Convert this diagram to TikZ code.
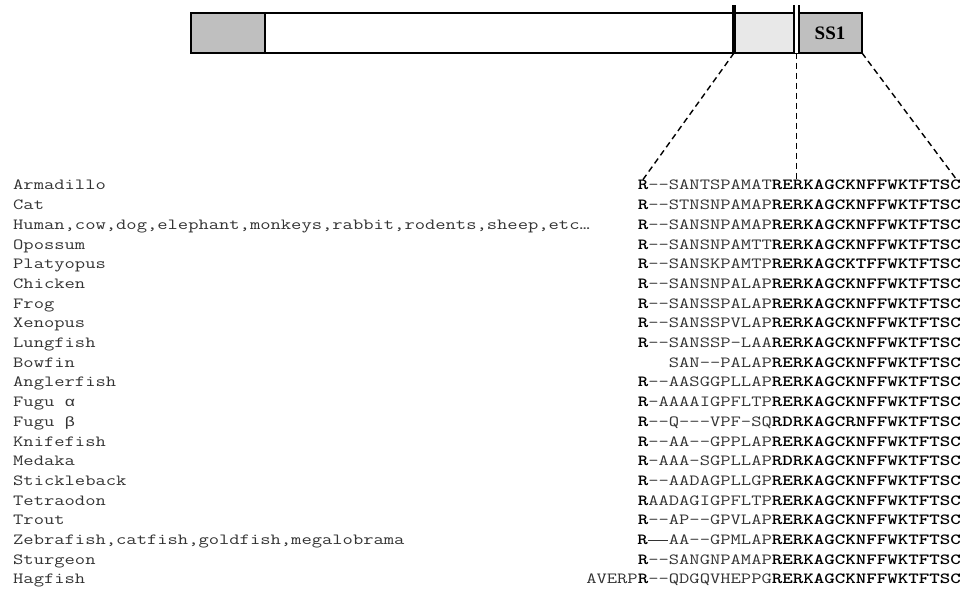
\documentclass[tikz,border=0pt]{standalone}
\usepackage{fontspec}
\newfontfamily\ssfont{Liberation Serif}
\newfontfamily\grk{Liberation Mono}
\usepackage{tikz}

\tikzset{
  species/.style={anchor=base west, inner sep=0pt, text=black!80,
    font=\ttfamily\fontsize{15.5}{17}\selectfont},
  seq/.style={anchor=base east, inner sep=0pt, text=black!80,
    font=\ttfamily\fontsize{15.5}{17}\selectfont},
  segment/.style={draw, line width=1.8pt},
  cut/.style={line width=3.5pt},
  dashline/.style={dash pattern=on 6pt off 4pt, line width=1.4pt},
}
\newcommand{\wide}[1]{\scalebox{1.29}[1]{#1}}
\newcommand{\bd}[1]{{\color{black}\fontseries{b}\selectfont #1}}
\newcommand{\gr}[1]{{\grk\fontsize{13.5}{17}\selectfont #1}}
\newcommand{\longdash}{\makebox[1.05em][c]{\rule[0.22em]{1.0em}{0.05em}}}

\begin{document}
\begin{tikzpicture}[x=1pt,y=1pt]
\useasboundingbox (0,0) rectangle (962,597);
% precursor bar
\draw[segment, fill=black!25] (191,544) rectangle (265,584);
\draw[segment, fill=white] (265,544) rectangle (734,584);
\draw[segment, fill=black!9] (734,544) rectangle (796.5,584);
\draw[segment, fill=black!25] (796.5,544) rectangle (862,584);
\node[font=\ssfont\bfseries\fontsize{19}{19}\selectfont] (ss1) at (830,564) {SS1};
%
\draw[cut] (734,544) -- (734,592);
\draw[double, double distance=2.2pt, line width=2.8pt] (796.5,544) -- (796.5,592);
%
\coordinate (c1) at (734,544);
\coordinate (c2) at (796.5,544);
\coordinate (c3) at (862,544);
%
\node[species] (n1) at (13,407) {\wide{Armadillo}};
\node[species] (n2) at (13,387.3) {\wide{Cat}};
\node[species] (n3) at (13,367.6) {\wide{Human,cow,dog,elephant,monkeys,rabbit,rodents,sheep,etc…}};
\node[species] (n4) at (13,347.9) {\wide{Opossum}};
\node[species] (n5) at (13,328.2) {\wide{Platyopus}};
\node[species] (n6) at (13,308.5) {\wide{Chicken}};
\node[species] (n7) at (13,288.8) {\wide{Frog}};
\node[species] (n8) at (13,269.1) {\wide{Xenopus}};
\node[species] (n9) at (13,249.4) {\wide{Lungfish}};
\node[species] (n10) at (13,229.7) {\wide{Bowfin}};
\node[species] (n11) at (13,210.0) {\wide{Anglerfish}};
\node[species] (n12) at (13,190.3) {\wide{Fugu \gr{α}}};
\node[species] (n13) at (13,170.6) {\wide{Fugu \gr{β}}};
\node[species] (n14) at (13,150.9) {\wide{Knifefish}};
\node[species] (n15) at (13,131.2) {\wide{Medaka}};
\node[species] (n16) at (13,111.5) {\wide{Stickleback}};
\node[species] (n17) at (13,91.8) {\wide{Tetraodon}};
\node[species] (n18) at (13,72.1) {\wide{Trout}};
\node[species] (n19) at (13,52.4) {\wide{Zebrafish,catfish,goldfish,megalobrama}};
\node[species] (n20) at (13,32.7) {\wide{Sturgeon}};
\node[species] (n21) at (13,13.0) {\wide{Hagfish}};
%
\node[seq] (s1) at (961,407) {\wide{\bd{R}--SANTSPAMAT\bd{RERKAGCKNFFWKTFTSC}}};
\node[seq] (s2) at (961,387.3) {\wide{\bd{R}--STNSNPAMAP\bd{RERKAGCKNFFWKTFTSC}}};
\node[seq] (s3) at (961,367.6) {\wide{\bd{R}--SANSNPAMAP\bd{RERKAGCKNFFWKTFTSC}}};
\node[seq] (s4) at (961,347.9) {\wide{\bd{R}--SANSNPAMTT\bd{RERKAGCKNFFWKTFTSC}}};
\node[seq] (s5) at (961,328.2) {\wide{\bd{R}--SANSKPAMTP\bd{RERKAGCKTFFWKTFTSC}}};
\node[seq] (s6) at (961,308.5) {\wide{\bd{R}--SANSNPALAP\bd{RERKAGCKNFFWKTFTSC}}};
\node[seq] (s7) at (961,288.8) {\wide{\bd{R}--SANSSPALAP\bd{RERKAGCKNFFWKTFTSC}}};
\node[seq] (s8) at (961,269.1) {\wide{\bd{R}--SANSSPVLAP\bd{RERKAGCKNFFWKTFTSC}}};
\node[seq] (s9) at (961,249.4) {\wide{\bd{R}--SANSSP-LAA\bd{RERKAGCKNFFWKTFTSC}}};
\node[seq] (s10) at (961,229.7) {\wide{SAN--PALAP\bd{RERKAGCKNFFWKTFTSC}}};
\node[seq] (s11) at (961,210.0) {\wide{\bd{R}--AASGGPLLAP\bd{RERKAGCKNFFWKTFTSC}}};
\node[seq] (s12) at (961,190.3) {\wide{\bd{R}-AAAAIGPFLTP\bd{RERKAGCKNFFWKTFTSC}}};
\node[seq] (s13) at (961,170.6) {\wide{\bd{R}--Q---VPF-SQ\bd{RDRKAGCRNFFWKTFTSC}}};
\node[seq] (s14) at (961,150.9) {\wide{\bd{R}--AA--GPPLAP\bd{RERKAGCKNFFWKTFTSC}}};
\node[seq] (s15) at (961,131.2) {\wide{\bd{R}-AAA-SGPLLAP\bd{RDRKAGCKNFFWKTFTSC}}};
\node[seq] (s16) at (961,111.5) {\wide{\bd{R}--AADAGPLLGP\bd{RERKAGCKNFFWKTFTSC}}};
\node[seq] (s17) at (961,91.8) {\wide{\bd{R}AADAGIGPFLTP\bd{RERKAGCKNFFWKTFTSC}}};
\node[seq] (s18) at (961,72.1) {\wide{\bd{R}--AP--GPVLAP\bd{RERKAGCKNFFWKTFTSC}}};
\node[seq] (s19) at (961,52.4) {\wide{\bd{R}\longdash AA--GPMLAP\bd{RERKAGCKNFFWKTFTSC}}};
\node[seq] (s20) at (961,32.7) {\wide{\bd{R}--SANGNPAMAP\bd{RERKAGCKNFFWKTFTSC}}};
\node[seq] (s21) at (961,13.0) {\wide{AVERP\bd{R}--QDGQVHEPPG\bd{RERKAGCKNFFWKTFTSC}}};
%
\draw[dashline] (c1) -- ([xshift=5pt]s1.north west);
\draw[dashline] (c2) -- (c2 |- s1.north);
\draw[dashline] (c3) -- ([xshift=-4pt]s1.north east);
\end{tikzpicture}
\end{document}
